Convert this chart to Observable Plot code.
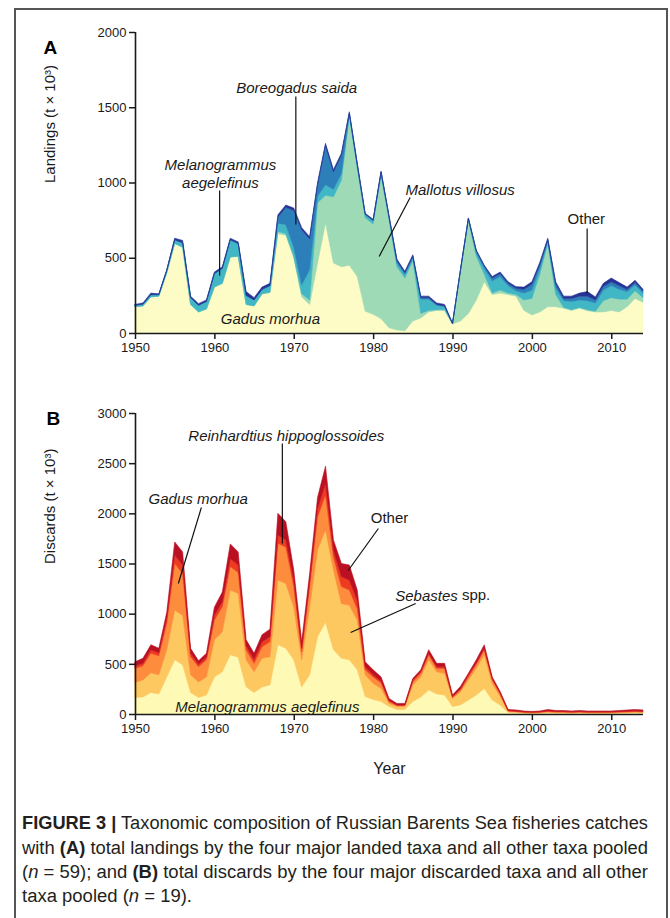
<!DOCTYPE html>
<html><head><meta charset="utf-8">
<script src="https://cdn.jsdelivr.net/npm/d3@7"></script>
<script src="https://cdn.jsdelivr.net/npm/@observablehq/plot@0.6"></script>
<style>
html,body{margin:0;padding:0;background:#fff;}
#page{position:relative;width:670px;height:918px;overflow:hidden;font-family:"Liberation Sans",Arial,sans-serif;}
#overlay{position:absolute;left:0;top:0;}
#panelA{position:absolute;left:0;top:0;}
#panelB{position:absolute;left:0;top:370px;}
</style></head>
<body><div id="page">
<svg id="overlay" width="670" height="918" xmlns="http://www.w3.org/2000/svg"></svg>
<div id="panelA"></div><div id="panelB"></div>
</div>
<script>
// ---------- data ----------
const years = d3.range(1950, 2015);
const xTicks = [1950, 1960, 1970, 1980, 1990, 2000, 2010];
const yTicksA = [0, 500, 1000, 1500, 2000];
const yTicksB = [0, 500, 1000, 1500, 2000, 2500, 3000];

// Panel A: landings (t x 10^3), stacked bottom -> top
const taxaA = ["Gadus morhua", "Mallotus villosus", "Melanogrammus aeglefinus", "Boreogadus saida", "Other"];
const gadusA = [175,180,240,245,400,595,570,190,140,160, 305,330,505,510,190,180,260,270,660,650,
  500,240,190,465,730,465,440,450,375,145, 125,95,35,20,15,80,100,140,150,150,
  60,80,130,220,340,255,265,255,245,150, 120,140,175,175,165,150,165,148,140,140, 150,140,175,230,205];
const mallotusA = [0,0,0,0,0,0,0,0,0,0, 0,0,0,0,0,0,0,0,15,10,
  10,20,30,400,185,440,575,990,720,620, 600,950,720,420,350,400,30,10,5,5,
  0,330,620,290,50,10,20,10,10,70, 110,250,420,80,5,5,5,7,5,75, 85,85,50,50,30];
const melanogrammusA = [10,12,15,10,15,25,30,45,45,50, 90,100,115,85,60,40,30,45,55,60,
  60,60,200,45,70,50,45,15,20,20, 20,20,15,25,25,20,95,75,30,20,
  2,5,8,25,40,80,90,50,25,45, 55,40,15,45,45,55,50,60,55,70, 80,65,50,40,30];
const boreogadusA = [0,0,0,0,0,0,0,0,0,0, 0,0,0,0,0,0,0,0,40,115,
  245,365,205,75,260,115,120,5,5,5, 5,5,5,15,10,10,10,10,5,5,
  1,3,4,10,15,20,20,15,18,25, 40,25,10,25,15,20,25,30,20,25, 25,25,15,15,15];
const otherA = [5,8,10,5,5,10,15,10,10,10, 10,10,10,10,25,15,15,15,15,15,
  15,15,15,15,15,15,15,10,10,5, 5,5,5,10,10,10,10,10,10,10,
  2,2,3,5,5,10,10,10,10,15, 15,15,10,15,15,15,20,30,20,20, 25,20,15,15,10];

// Panel B: discards (t x 10^3), stacked bottom -> top
const taxaB = ["Melanogrammus aeglefinus", "Sebastes spp.", "Gadus morhua", "Reinhardtius hippoglossoides", "Other"];
const melanogrammusB = [165,170,215,200,370,540,490,215,165,190, 370,420,590,565,270,215,270,290,690,655,
  540,270,390,770,915,640,555,540,440,175, 145,125,75,45,45,125,170,240,200,190,
  75,90,140,190,255,140,90,15,12,8, 6,8,10,8,8,7,8,7,7,7, 7,8,9,10,9];
const sebastesB = [150,170,195,190,270,495,495,175,155,180, 370,400,645,635,270,205,285,280,645,645,
  525,270,675,865,920,795,545,545,495,215, 160,130,30,30,30,165,200,300,220,215,
  80,130,200,265,335,165,85,10,8,6, 5,6,10,8,7,6,7,6,6,6, 6,7,8,9,8];
const gadusB = [140,140,195,190,265,465,415,180,150,170, 195,250,235,210,100,85,115,150,365,365,
  205,80,205,330,350,130,170,150,115,50, 65,55,20,10,10,30,35,50,35,50,
  10,20,30,40,50,35,25,5,5,4, 4,4,6,5,5,4,5,4,4,4, 4,5,5,6,5];
const reinhardtiusB = [25,25,35,30,50,85,85,35,25,25, 50,50,80,75,40,40,50,50,85,70,
  65,35,50,85,115,70,100,100,85,30, 20,20,10,5,5,20,15,15,15,15,
  10,10,20,15,15,15,10,5,5,4, 4,4,6,5,5,5,5,5,5,5, 5,5,6,7,6];
const otherB = [40,50,50,45,60,130,130,50,35,40, 80,95,145,130,60,60,70,75,215,180,
  100,65,80,110,170,100,130,150,100,50, 50,40,20,15,15,15,20,35,35,35,
  15,25,15,30,35,15,15,10,10,8, 6,8,13,9,10,8,10,8,8,8, 8,10,12,13,12];

// annotations (data coordinates)
const annA = [
  {text: "Boreogadus saida", x: 1970.3, y: 1635, italic: true},
  {text: "Melanogrammus\naegelefinus", x: 1960.7, y: 1066, italic: true},
  {text: "Mallotus villosus", x: 1990.9, y: 957, italic: true},
  {text: "Other", x: 2006.8, y: 757, italic: false},
  {text: "Gadus morhua", x: 1967.0, y: 100, italic: true}
];
const leadA = [
  {x1: 1970.2, y1: 1575, x2: 1970.2, y2: 724},
  {x1: 1960.6, y1: 950, x2: 1960.6, y2: 385},
  {x1: 1984.6, y1: 904, x2: 1980.7, y2: 512},
  {x1: 2006.9, y1: 698, x2: 2006.9, y2: 266}
];
const annB = [
  {text: "Reinhardtius hippoglossoides", x: 1969.0, y: 2781, italic: true, anchor: "middle"},
  {text: "Gadus morhua", x: 1957.9, y: 2153, italic: true, anchor: "middle"},
  {text: "Other", x: 1982.0, y: 1954, italic: false, anchor: "middle"},
  {text: "Sebastes", x: 1990.6, y: 1186, italic: true, anchor: "end"},
  {text: "\u00a0spp.", x: 1990.6, y: 1186, italic: false, anchor: "start"},
  {text: "Melanogrammus aeglefinus", x: 1966.6, y: 80, italic: true, anchor: "middle"}
];
const leadB = [
  {x1: 1968.5, y1: 2701, x2: 1968.5, y2: 1704},
  {x1: 1958.3, y1: 2063, x2: 1955.4, y2: 1306},
  {x1: 1980.6, y1: 1854, x2: 1976.8, y2: 1435},
  {x1: 1985.3, y1: 1106, x2: 1977.1, y2: 817}
];

// ---------- build ----------
const seriesA = [gadusA, mallotusA, melanogrammusA, boreogadusA, otherA];
const seriesB = [melanogrammusB, sebastesB, gadusB, reinhardtiusB, otherB];
const longA = years.flatMap((yr, i) => taxaA.map((t, k) => ({year: yr, taxon: t, value: seriesA[k][i]})));
const longB = years.flatMap((yr, i) => taxaB.map((t, k) => ({year: yr, taxon: t, value: seriesB[k][i]})));
const colorsA = ["#fdfcc6", "#9fdab6", "#41b6c4", "#2c7fb8", "#253494"];
const colorsB = ["#fef9b4", "#fdc860", "#fd8d3c", "#ee3b20", "#bb0f22"];
const style = "background: transparent; font-family: 'Liberation Sans', Arial, sans-serif; font-size: 13px; color: #1a1a1a; overflow: visible;";
const txt = {fill: "#1a1a1a", fontSize: 15};

function axes(yTicks) {
  return [
    Plot.axisX({ticks: xTicks, tickFormat: d => String(d), label: null, tickSize: 6, tickPadding: 3, strokeWidth: 1.5, fontSize: 13}),
    Plot.axisY({ticks: yTicks, tickFormat: d => String(d), label: null, tickSize: 6, tickPadding: 3, strokeWidth: 1.5, fontSize: 13}),
    Plot.ruleX([years[0]], {strokeWidth: 1.6, stroke: "#1a1a1a"}),
    Plot.ruleY([0], {strokeWidth: 1.6, stroke: "#1a1a1a"})
  ];
}
function labels(ann) {
  const out = [];
  for (const anchor of ["start", "middle", "end"]) {
    out.push(Plot.text(ann, {filter: d => d.italic && (d.anchor || "middle") === anchor, x: "x", y: "y", text: "text", textAnchor: anchor, fontStyle: "italic", lineHeight: 1.2, ...txt}));
    out.push(Plot.text(ann, {filter: d => !d.italic && (d.anchor || "middle") === anchor, x: "x", y: "y", text: "text", textAnchor: anchor, ...txt}));
  }
  return out;
}

const plotA = Plot.plot({
  width: 670, height: 360,
  marginTop: 32, marginBottom: 27, marginLeft: 135, marginRight: 27,
  style,
  x: {domain: [years[0], years[years.length - 1]]},
  y: {domain: [yTicksA[0], yTicksA[yTicksA.length - 1]]},
  color: {domain: taxaA, range: colorsA},
  marks: [
    Plot.areaY(longA, {x: "year", y: "value", z: "taxon", fill: "taxon", stroke: "taxon", strokeWidth: 0.6, order: taxaA}),
    ...axes(yTicksA),
    Plot.link(leadA, {x1: "x1", y1: "y1", x2: "x2", y2: "y2", stroke: "#111", strokeWidth: 1.2}),
    ...labels(annA),
    Plot.text(["Landings (t \u00d7 10\u00b3)"], {text: d => d, frameAnchor: "left", dx: -85, rotate: -90, ...txt}),
    Plot.text(["A"], {text: d => d, frameAnchor: "top-left", dx: -92, dy: 8, fontSize: 19, fontWeight: "bold", fill: "#000"})
  ]
});
document.getElementById("panelA").appendChild(plotA);

const plotB = Plot.plot({
  width: 670, height: 410,
  marginTop: 43, marginBottom: 66, marginLeft: 135, marginRight: 27,
  style,
  x: {domain: [years[0], years[years.length - 1]]},
  y: {domain: [yTicksB[0], yTicksB[yTicksB.length - 1]]},
  color: {domain: taxaB, range: colorsB},
  marks: [
    Plot.areaY(longB, {x: "year", y: "value", z: "taxon", fill: "taxon", stroke: "taxon", strokeWidth: 0.6, order: taxaB}),
    ...axes(yTicksB),
    Plot.link(leadB, {x1: "x1", y1: "y1", x2: "x2", y2: "y2", stroke: "#111", strokeWidth: 1.2}),
    ...labels(annB),
    Plot.text(["Discards (t \u00d7 10\u00b3)"], {text: d => d, frameAnchor: "left", dx: -85, rotate: -90, ...txt}),
    Plot.text(["B"], {text: d => d, frameAnchor: "top-left", dx: -89, dy: -2, fontSize: 19, fontWeight: "bold", fill: "#000"}),
    Plot.text(["Year"], {text: d => d, frameAnchor: "bottom", dy: 59, fontSize: 16, fill: "#1a1a1a"})
  ]
});
document.getElementById("panelB").appendChild(plotB);

// page frame + caption (one background svg)
const ov = document.getElementById("overlay");
const capLines = [
  {y: 829, len: 626, html: '<tspan font-weight="bold">FIGURE 3 |</tspan> Taxonomic composition of Russian Barents Sea fisheries catches'},
  {y: 854, len: 626, html: 'with <tspan font-weight="bold">(A)</tspan> total landings by the four major landed taxa and all other taxa pooled'},
  {y: 878, len: 626, html: '(<tspan font-style="italic">n</tspan> = 59); and <tspan font-weight="bold">(B)</tspan> total discards by the four major discarded taxa and all other'},
  {y: 902, len: 170, html: 'taxa pooled (<tspan font-style="italic">n</tspan> = 19).'}
];
ov.innerHTML =
  '<path d="M15,940 V9 H667 V940" fill="none" stroke="#555" stroke-width="2"/>' +
  capLines.map(l =>
    `<text x="22" y="${l.y}" textLength="${l.len}" lengthAdjust="spacingAndGlyphs" font-family="'Liberation Sans', Arial, sans-serif" font-size="18" fill="#231f20">${l.html}</text>`
  ).join("");
</script>
</body></html>
